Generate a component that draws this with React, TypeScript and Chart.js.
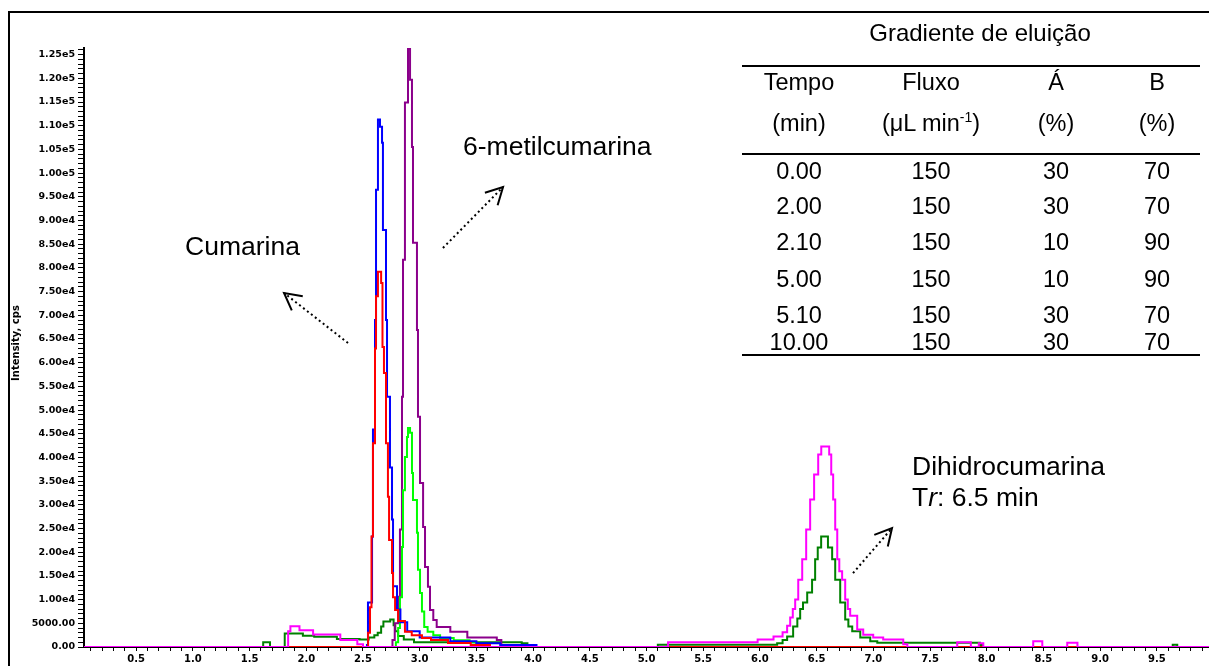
import React, { useEffect, useRef } from 'react';
import { Chart, registerables } from 'chart.js';

Chart.register(...registerables);

// ---------- data (time in min, intensity in cps) ----------
const traceMagenta: [number, number][] = [
  [0.04, 0], [1.82, 0], [1.84, 3300], [1.86, 4400], [1.94, 3550], [2.06, 2640], [2.3, 1500], [2.45, 600], [2.5, 0],
  [5.18, 0], [5.19, 1000], [5.98, 1600], [6.12, 2200], [6.2, 3100], [6.24, 4500], [6.267, 6200], [6.29, 8000],
  [6.311, 10000], [6.338, 14200], [6.373, 18500], [6.408, 24800], [6.443, 31100], [6.478, 36400], [6.514, 40600],
  [6.541, 42300], [6.611, 40600], [6.629, 36400], [6.646, 31100], [6.664, 24800], [6.682, 18500], [6.7, 16000],
  [6.725, 14200], [6.752, 10000], [6.775, 8000], [6.796, 6600], [6.858, 3700], [6.911, 2600], [6.999, 2000],
  [7.087, 1600], [7.264, 600], [7.3, 0], [7.74, 1000], [7.86, 0], [7.93, 800], [7.97, 0], [8.41, 1200], [8.49, 0],
  [8.71, 900], [8.8, 0], [9.96, 0],
];

const traceRed: [number, number][] = [
  [0.04, 0], [2.535, 0], [2.545, 3000], [2.562, 8400], [2.575, 23300], [2.588, 43000], [2.606, 63000], [2.615, 74000],
  [2.632, 79200], [2.66, 76800], [2.672, 63300], [2.685, 57800], [2.703, 43000], [2.72, 31700], [2.73, 22600],
  [2.756, 15600], [2.765, 10500], [2.783, 7800], [2.81, 5500], [2.87, 3200], [2.93, 2500], [3.02, 1900], [3.1, 1500],
  [3.25, 850], [3.45, 400], [3.62, 0], [9.96, 0],
];

const traceBlue: [number, number][] = [
  [0.04, 0], [2.5, 0], [2.535, 400], [2.544, 9400], [2.58, 23300], [2.588, 45900], [2.606, 69000], [2.615, 96500],
  [2.632, 111300], [2.65, 109800], [2.668, 106400], [2.676, 88000], [2.703, 69000], [2.712, 52800], [2.738, 37900],
  [2.756, 26900], [2.765, 12800], [2.8, 7900], [2.83, 5200], [2.89, 3300], [3.0, 2000], [3.27, 1200], [3.5, 800],
  [3.71, 400], [4.03, 0], [9.96, 0],
];

const traceGreen: [number, number][] = [
  [0.04, 0], [2.77, 0], [2.79, 1000], [2.81, 4000], [2.826, 10500], [2.844, 21100], [2.853, 33100], [2.87, 40100],
  [2.888, 44300], [2.897, 46200], [2.915, 45200], [2.932, 36700], [2.941, 31000], [2.976, 24100], [2.985, 16300],
  [3.003, 11400], [3.02, 7500], [3.04, 4200], [3.07, 3200], [3.12, 2500], [3.18, 1900], [3.3, 1400], [3.44, 1000],
  [3.5, 0], [9.96, 0],
];

const tracePurple: [number, number][] = [
  [0.04, 0], [2.74, 0], [2.76, 1500], [2.78, 5000], [2.81, 10600], [2.826, 24800], [2.844, 52800], [2.853, 81700],
  [2.87, 114900], [2.897, 126300], [2.915, 119700], [2.932, 105500], [2.941, 85300], [2.976, 66900], [2.985, 48600],
  [3.003, 34600], [3.03, 25300], [3.047, 16900], [3.073, 12700], [3.091, 7800], [3.12, 5700], [3.15, 4200],
  [3.27, 3200], [3.42, 2000], [3.68, 1500], [3.72, 0], [9.96, 0],
];

const traceDarkGreen: [number, number][] = [
  [0.04, 0], [1.6, 0], [1.62, 1000], [1.68, 0], [1.81, 2850], [1.97, 2400], [2.07, 2150], [2.27, 1700], [2.47, 1600],
  [2.55, 2000], [2.6, 2500], [2.63, 3000], [2.66, 4300], [2.68, 5400], [2.74, 5800], [2.77, 4600], [2.785, 3300],
  [2.81, 2300], [2.86, 1600], [2.95, 1000], [3.9, 800], [3.95, 0], [5.05, 0], [5.1, 500], [6.1, 500], [6.152, 800],
  [6.2, 1500], [6.24, 2200], [6.293, 4300], [6.33, 6000], [6.355, 8000], [6.38, 9400], [6.417, 11500], [6.46, 14200],
  [6.487, 18500], [6.51, 21000], [6.54, 23300], [6.6, 21000], [6.637, 18500], [6.664, 14200], [6.708, 9400],
  [6.752, 5800], [6.78, 4300], [6.814, 3300], [6.885, 2000], [6.973, 1200], [7.035, 900], [7.94, 400], [7.96, 0],
  [9.62, 0], [9.64, 500], [9.68, 0], [9.96, 0],
];

// axis ranges and ticks
const X_MIN = 0.04;
const X_MAX = 9.96;
const Y_MIN = 0;
const Y_MAX = 126400;
const X_TICK_COUNT = 99; // 0.1 ... 9.9
const X_STEP = 0.1;
const Y_TICK_COUNT = 127; // 0 ... 126000
const Y_STEP = 1000;
const Y_LABEL_EVERY = 5000;
const xTickValues = Array.from({ length: X_TICK_COUNT }, (_, i) => +((i + 1) * X_STEP).toFixed(1));
const yTickValues = Array.from({ length: Y_TICK_COUNT }, (_, i) => i * Y_STEP);

// table: Gradiente de eluição
const tableTitle = 'Gradiente de eluição';
const tempoMin = ['0.00', '2.00', '2.10', '5.00', '5.10', '10.00'];
const fluxo = ['150', '150', '150', '150', '150', '150'];
const solventeA = ['30', '30', '10', '10', '30', '30'];
const solventeB = ['70', '70', '90', '90', '70', '70'];

// annotation arrows in data coordinates: [tailX, tailY, tipX, tipY]
const arrows: [number, number, number, number][] = [
  [2.368, 64150, 1.804, 74700],
  [3.205, 84200, 3.735, 97070],
  [6.821, 15600, 7.165, 25100],
];

const fmtY = (v: number) => {
  if (Math.round(v) % Y_LABEL_EVERY !== 0) return '';
  if (v === 0) return '0.00';
  if (v < 10000) return v.toFixed(2);
  const e = Math.floor(Math.log10(v));
  return (v / Math.pow(10, e)).toFixed(2) + 'e' + e;
};
const fmtX = (v: number) => (Math.abs(v * 2 - Math.round(v * 2)) < 1e-6 ? v.toFixed(1) : '');

const FONT = "'Liberation Sans', Arial, sans-serif";
const X_TICK_FONT = { family: 'DejaVu Sans', size: 10, weight: 'bold' as const };
const Y_TICK_FONT = { family: 'DejaVu Sans', size: 9.5, weight: 'bold' as const };

const arrowPlugin = {
  id: 'arrowPlugin',
  afterDraw(chart: any) {
    const { ctx, scales } = chart;
    const xs = scales.x;
    const ys = scales.y;
    ctx.save();
    ctx.strokeStyle = '#000';
    ctx.lineWidth = 2;
    arrows.forEach(([tx, ty, hx, hy]) => {
      const x0 = xs.getPixelForValue(tx);
      const y0 = ys.getPixelForValue(ty);
      const x1 = xs.getPixelForValue(hx);
      const y1 = ys.getPixelForValue(hy);
      ctx.setLineDash([2, 3]);
      ctx.beginPath();
      ctx.moveTo(x0, y0);
      ctx.lineTo(x1, y1);
      ctx.stroke();
      ctx.setLineDash([]);
      const ang = Math.atan2(y0 - y1, x0 - x1);
      const len = 19;
      const spread = (28 * Math.PI) / 180;
      ctx.beginPath();
      ctx.moveTo(x1 + len * Math.cos(ang + spread), y1 + len * Math.sin(ang + spread));
      ctx.lineTo(x1, y1);
      ctx.lineTo(x1 + len * Math.cos(ang - spread), y1 + len * Math.sin(ang - spread));
      ctx.stroke();
    });
    ctx.restore();
  },
};

const toXY = (arr: [number, number][]) => arr.map(([x, y]) => ({ x, y }));

function CenterText({ cx, cy, size, children }: { cx: number; cy: number; size: number; children: any }) {
  const lh = size * 1.2;
  return (
    <div
      style={{
        position: 'absolute',
        left: cx - 150,
        width: 300,
        top: cy - lh / 2,
        lineHeight: `${lh}px`,
        fontSize: size,
        textAlign: 'center',
        whiteSpace: 'nowrap',
      }}
    >
      {children}
    </div>
  );
}

function LeftText({ x, cy, size, children }: { x: number; cy: number; size: number; children: any }) {
  const lh = size * 1.2;
  return (
    <div
      style={{
        position: 'absolute',
        left: x,
        top: cy - lh / 2,
        lineHeight: `${lh}px`,
        fontSize: size,
        whiteSpace: 'nowrap',
      }}
    >
      {children}
    </div>
  );
}

export default function App() {
  const ref = useRef<HTMLCanvasElement | null>(null);

  useEffect(() => {
    if (!ref.current) return;
    const mk = (data: [number, number][], color: string) => ({
      data: toXY(data),
      borderColor: color,
      backgroundColor: color,
      borderWidth: 2,
      stepped: true as const,
      pointRadius: 0,
      fill: false,
    });
    const chart = new Chart(ref.current, {
      type: 'line',
      data: {
        datasets: [
          mk(traceMagenta, '#FF00FF'),
          mk(traceRed, '#FF0000'),
          mk(traceBlue, '#0000FF'),
          mk(traceGreen, '#00FF00'),
          mk(tracePurple, '#8B008B'),
          mk(traceDarkGreen, '#008000'),
        ],
      },
      options: {
        animation: false,
        responsive: false,
        devicePixelRatio: 1,
        layout: { padding: { left: 0, right: 0, top: 48, bottom: 0 } },
        plugins: { legend: { display: false }, tooltip: { enabled: false } },
        events: [],
        scales: {
          x: {
            type: 'linear',
            min: X_MIN,
            max: X_MAX,
            afterBuildTicks: (s: any) => {
              s.ticks = xTickValues.map((value) => ({ value }));
            },
            ticks: {
              autoSkip: false,
              maxRotation: 0,
              minRotation: 0,
              padding: 2,
              color: '#000',
              font: X_TICK_FONT,
              callback: (v: any) => fmtX(Number(v)),
            },
            grid: { drawOnChartArea: false, drawTicks: true, tickLength: 4, color: '#000', lineWidth: 1 },
            border: { display: true, color: '#000', width: 2 },
            afterFit: (s: any) => {
              s.height = 19;
            },
          },
          y: {
            type: 'linear',
            min: Y_MIN,
            max: Y_MAX,
            afterBuildTicks: (s: any) => {
              s.ticks = yTickValues.map((value) => ({ value }));
            },
            ticks: {
              autoSkip: false,
              padding: 3,
              color: '#000',
              font: Y_TICK_FONT,
              callback: (v: any) => fmtY(Number(v)),
            },
            grid: { drawOnChartArea: false, drawTicks: true, tickLength: 6, color: '#000', lineWidth: 1 },
            border: { display: true, color: '#000', width: 2 },
            afterFit: (s: any) => {
              s.width = 84;
            },
          },
        },
      },
      plugins: [arrowPlugin],
    } as any);
    return () => chart.destroy();
  }, []);

  const colX = [799, 931, 1056, 1157];
  const rowY = [171, 206, 242, 279, 315, 342];
  const lineStyle = (top: number) => ({
    position: 'absolute' as const,
    left: 742,
    width: 458,
    top,
    height: 2,
    background: '#000',
  });
  const TS = 23.5;

  return (
    <div
      style={{
        position: 'fixed',
        left: 0,
        top: 0,
        width: 1209,
        height: 666,
        overflow: 'hidden',
        background: '#fff',
        fontFamily: FONT,
        color: '#000',
      }}
    >
      <canvas ref={ref} width={1209} height={666} style={{ position: 'absolute', left: 0, top: 0, width: 1209, height: 666 }} />
      <div
        style={{
          position: 'absolute',
          left: 8,
          top: 11,
          width: 1400,
          height: 900,
          borderLeft: '2px solid #000',
          borderTop: '2px solid #000',
          pointerEvents: 'none',
        }}
      />
      {/* y-axis title */}
      <div
        style={{
          position: 'absolute',
          left: 16 - 60,
          top: 343 - 6,
          width: 120,
          height: 12,
          lineHeight: '12px',
          textAlign: 'center',
          fontFamily: 'DejaVu Sans',
          fontWeight: 'bold',
          fontSize: 10,
          transform: 'rotate(-90deg)',
          whiteSpace: 'nowrap',
        }}
      >
        Intensity, cps
      </div>

      {/* annotations */}
      <LeftText x={185} cy={247} size={26.5}>Cumarina</LeftText>
      <LeftText x={463} cy={147} size={26.5}>6-metilcumarina</LeftText>
      <LeftText x={912} cy={467} size={26.5}>Dihidrocumarina</LeftText>
      <LeftText x={912} cy={498} size={26.5}>
        T<i>r</i>: 6.5 min
      </LeftText>

      {/* elution gradient table */}
      <CenterText cx={980} cy={33} size={24}>{tableTitle}</CenterText>
      <div style={lineStyle(65)} />
      <CenterText cx={colX[0]} cy={82} size={TS}>Tempo</CenterText>
      <CenterText cx={colX[1]} cy={82} size={TS}>Fluxo</CenterText>
      <CenterText cx={colX[2]} cy={82} size={TS}>Á</CenterText>
      <CenterText cx={colX[3]} cy={82} size={TS}>B</CenterText>
      <CenterText cx={colX[0]} cy={123} size={TS}>(min)</CenterText>
      <CenterText cx={colX[1]} cy={123} size={TS}>
        (μL min<sup style={{ fontSize: 14, verticalAlign: 'top', position: 'relative', top: -6 }}>-1</sup>)
      </CenterText>
      <CenterText cx={colX[2]} cy={123} size={TS}>(%)</CenterText>
      <CenterText cx={colX[3]} cy={123} size={TS}>(%)</CenterText>
      <div style={lineStyle(153)} />
      {tempoMin.map((t, i) => (
        <React.Fragment key={i}>
          <CenterText cx={colX[0]} cy={rowY[i]} size={TS}>{t}</CenterText>
          <CenterText cx={colX[1]} cy={rowY[i]} size={TS}>{fluxo[i]}</CenterText>
          <CenterText cx={colX[2]} cy={rowY[i]} size={TS}>{solventeA[i]}</CenterText>
          <CenterText cx={colX[3]} cy={rowY[i]} size={TS}>{solventeB[i]}</CenterText>
        </React.Fragment>
      ))}
      <div style={lineStyle(354)} />
    </div>
  );
}
